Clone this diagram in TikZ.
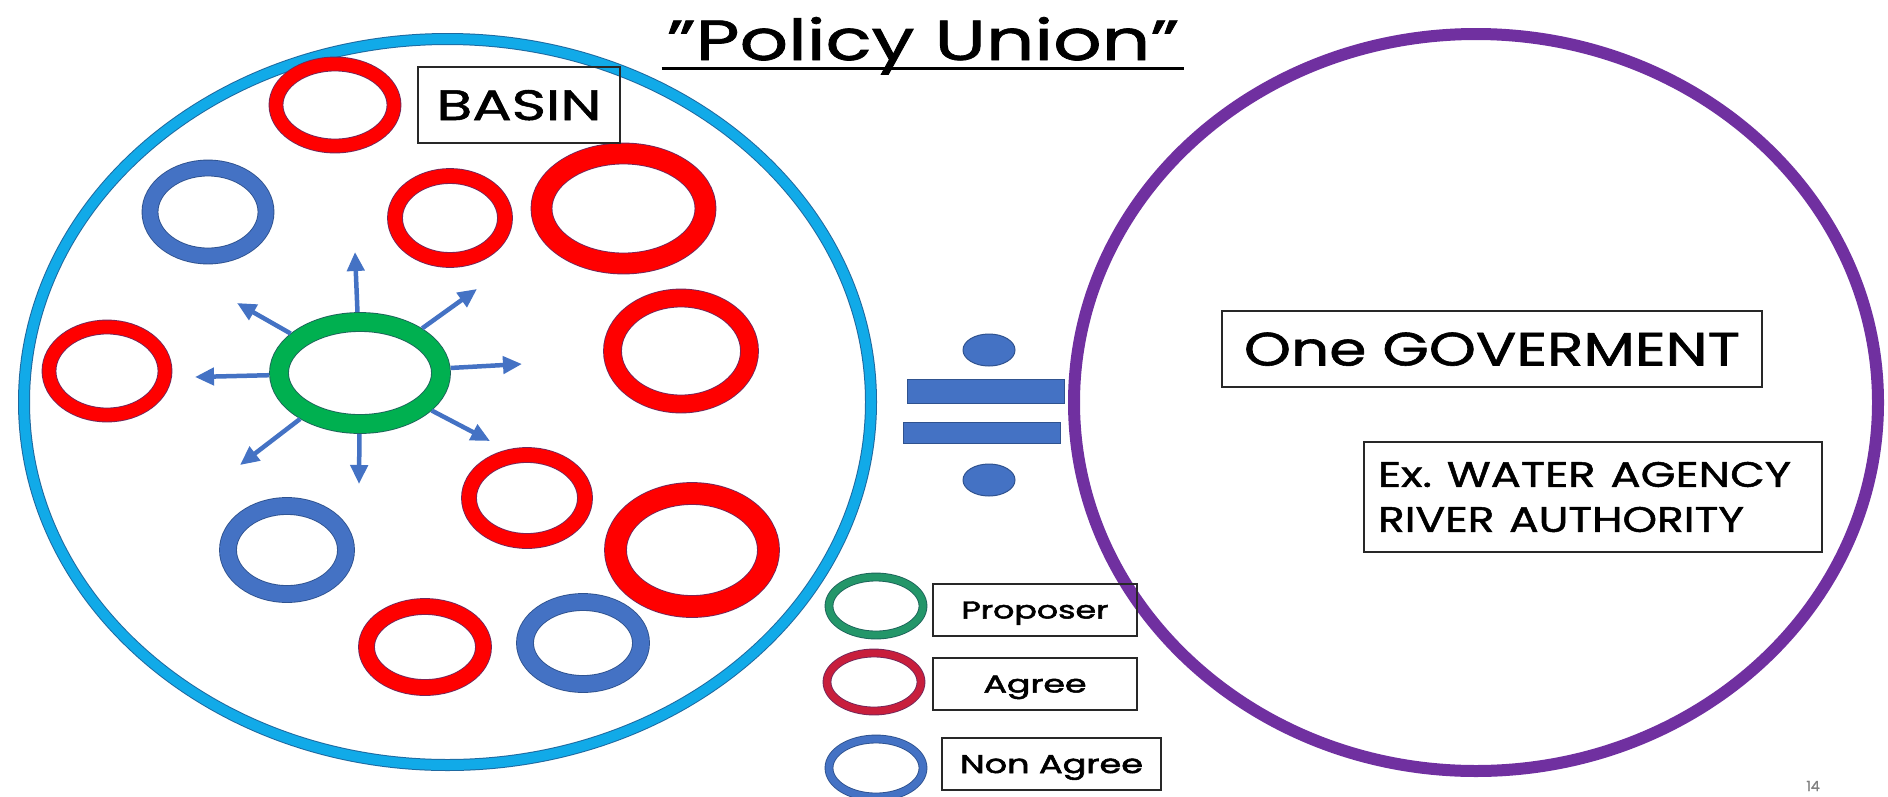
\documentclass[tikz,border=0pt]{standalone}
\usepackage{fontspec}
\setmainfont{Poppins}[FakeBold=1.2]
\newfontfamily\legfont{Poppins}[FakeBold=2]
\usetikzlibrary{shapes.geometric,arrows.meta}
\definecolor{basinblue}{RGB}{17,170,232}
\definecolor{basinedge}{RGB}{30,105,160}
\definecolor{govpurple}{RGB}{112,48,160}
\definecolor{agreered}{RGB}{255,0,0}
\definecolor{agreeedge}{RGB}{115,40,90}
\definecolor{nonblue}{RGB}{68,114,196}
\definecolor{nonedge}{RGB}{47,82,143}
\definecolor{propgreen}{RGB}{0,176,80}
\definecolor{propedge}{RGB}{30,100,90}
\definecolor{leggreen}{RGB}{35,150,105}
\definecolor{legred}{RGB}{200,30,60}
\definecolor{boxedge}{RGB}{40,40,40}
\newcommand{\fitto}[3]{\resizebox{#1}{#2}{#3}}
\tikzset{
  ring/.style={ellipse, inner sep=0pt, outer sep=0pt, line width=0.9pt, double distance=#1},
  agreering/.style={ring=#1, draw=agreeedge, double=agreered},
  nonring/.style={ring=#1, draw=nonedge, double=nonblue},
  propring/.style={ring=#1, draw=propedge, double=propgreen},
  sz/.style 2 args={minimum width=#1, minimum height=#2},
  plainbox/.style={draw=boxedge, line width=2pt, inner sep=0pt},
  labelbox/.style={plainbox, text depth=0pt},
  arr/.style={draw=nonblue, line width=4.5pt, -{Triangle[length=19pt,width=17pt]}},
  eqpart/.style={fill=nonblue, draw=nonedge, line width=1pt, inner sep=0pt},
}
\begin{document}
\begin{tikzpicture}[x=1pt,y=-1pt]
\useasboundingbox[fill=white] (0,0) rectangle (1888,796);
% big circles
\node[ellipse, inner sep=0pt, draw=basinedge, double=basinblue, line width=1pt, double distance=10pt, sz={847}{726}] (basin) at (447.5,402) {};
\node[ellipse, inner sep=0pt, draw=govpurple, line width=12pt, sz={804}{737}] (gov) at (1476,402.5) {};
% title
\node[anchor=base, inner sep=0pt] (title) at (923,60) {\fitto{512pt}{43pt}{”Policy Union”}};
\draw[line width=3pt] ([xshift=-5pt,yshift=-8pt]title.base west) -- ([xshift=5pt,yshift=-8pt]title.base east);
% rings in basin
\node[agreering=13, sz={118}{82}] (r1) at (335,105) {};
\node[nonring=15, sz={116}{88}] (b1) at (208,212) {};
\node[agreering=14, sz={110}{84}] (r2) at (450,218) {};
\node[agreering=20, sz={164}{110}] (r3) at (623.5,208.5) {};
\node[agreering=13, sz={116}{88}] (r4) at (107,371) {};
\node[agreering=17, sz={137}{106}] (r5) at (681,351) {};
\node[agreering=14, sz={116}{86}] (r6) at (527,498) {};
\node[agreering=21, sz={153}{113}] (r7) at (692,550) {};
\node[nonring=16, sz={118}{88}] (b2) at (287,550) {};
\node[agreering=15, sz={117}{81}] (r8) at (425,647) {};
\node[nonring=16, sz={116}{82}] (b3) at (583,643) {};
% proposer and arrows
\node[propring=18, sz={162}{102}, outer sep=10pt] (prop) at (360,373) {};
\coordinate (tU) at (355,252);
\coordinate (tUR) at (477,289);
\coordinate (tR) at (522,364);
\coordinate (tDR) at (490,441);
\coordinate (tD) at (359,484);
\coordinate (tDL) at (240,465);
\coordinate (tL) at (195,377);
\coordinate (tUL) at (237,303);
\foreach \t in {tU,tUR,tR,tDR,tD,tDL,tL,tUL} \draw[arr] (prop) -- (\t);
% basin label
\node[labelbox, sz={202}{76}, text height=30pt] (basinlbl) at (519,105) {\fitto{165pt}{30pt}{BASIN}};
% equals
\node[eqpart, ellipse, sz={52}{32}] (dotA) at (989,350) {};
\node[eqpart, rectangle, sz={157}{24}] (barA) at (985.5,391) {};
\node[eqpart, rectangle, sz={157}{21}] (barB) at (981.5,432.5) {};
\node[eqpart, ellipse, sz={52}{32}] (dotB) at (989,480) {};
% government
\node[labelbox, sz={540}{76}, text height=33pt] (govlbl) at (1492,349) {\fitto{496pt}{33pt}{One GOVERMENT}};
\node[plainbox, sz={458}{110}, text width=430pt, inner xsep=14pt, align=left, font=\fontsize{20}{45}\selectfont] (exlbl) at (1593,497) {\fitto{413pt}{25pt}{Ex.\ WATER AGENCY}\\\fitto{366pt}{25pt}{RIVER AUTHORITY}};
% legend
\node[ring=7, draw=propedge, double=leggreen, sz={94}{58}] (lg1) at (876,606) {};
\node[ring=7, draw=agreeedge, double=legred, sz={94}{58}] (lg2) at (874,682) {};
\node[ring=7, draw=nonedge, double=nonblue, sz={94}{58}] (lg3) at (876,768) {};
\node[labelbox, sz={204}{52}, text height=17pt, font=\legfont] (lt1) at (1035,610) {\fitto{147pt}{17pt}{Proposer}};
\node[labelbox, sz={204}{52}, text height=17pt, font=\legfont] (lt2) at (1035,684) {\fitto{103pt}{17pt}{Agree}};
\node[labelbox, sz={219}{52}, text height=18pt, font=\legfont] (lt3) at (1051.5,764) {\fitto{183pt}{18pt}{Non Agree}};
% page number
\node[text=gray, font=\fontsize{14}{14}\selectfont] (pg) at (1813,786) {14};
\end{tikzpicture}
\end{document}
